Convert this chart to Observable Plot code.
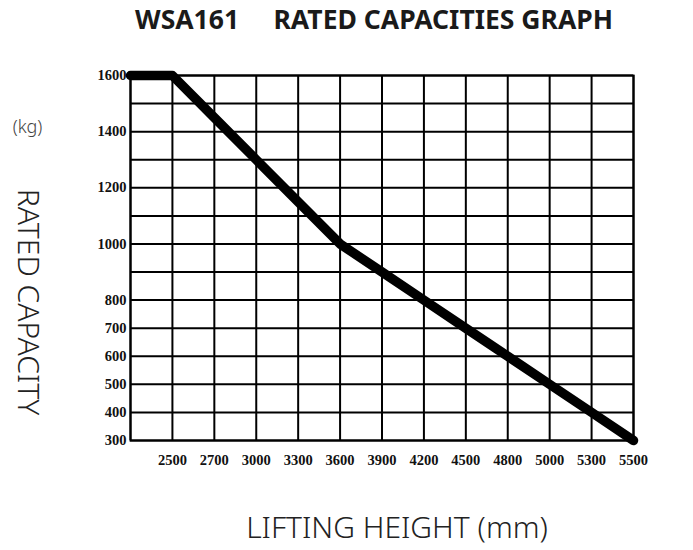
<!DOCTYPE html>
<html>
<head>
<meta charset="utf-8">
<script src="https://cdn.jsdelivr.net/npm/d3@7"></script>
<script src="https://cdn.jsdelivr.net/npm/@observablehq/plot@0.6"></script>
<style>
  html, body { margin: 0; padding: 0; background: #fff; }
  #title { height: 42px; box-sizing: border-box; padding-left: 135px; padding-top: 2px;
           font-family: "Noto Sans", sans-serif; font-weight: 700; font-size: 26.5px;
           color: #1a1a1a; white-space: pre; line-height: 34px; }
</style>
</head>
<body>
<div id="title">WSA161     RATED CAPACITIES GRAPH</div>
<div id="chart"></div>
<script>
// Lifting height categories (mm); leading "" is the unlabeled left edge column
const heights = ["", "2500", "2700", "3000", "3300", "3600", "3900", "4200", "4500", "4800", "5000", "5300", "5500"];
// Rated capacity (kg) read at each lifting height
const capacity = [1600, 1600, 1450, 1300, 1150, 1000, 900, 800, 700, 600, 500, 400, 300];
// Y tick labels shown
const yTicks = [1600, 1400, 1200, 1000, 800, 700, 600, 500, 400, 300];
// Horizontal grid values
const yGrid = [300, 400, 500, 600, 700, 800, 900, 1000, 1100, 1200, 1300, 1400, 1500, 1600];

const data = heights.map((h, i) => ({h, c: capacity[i]}));
const tickFont = {fontFamily: "'Liberation Serif', 'DejaVu Serif', serif", fontWeight: "bold", fontSize: 14.5};
const labelFont = "'Noto Sans', 'Open Sans', sans-serif";

const chart = Plot.plot({
  width: 693,
  height: 508,
  marginTop: 33,
  marginBottom: 110,
  marginLeft: 130,
  marginRight: 60,
  style: {background: "#fff", color: "#000"},
  x: {type: "point", domain: heights, padding: 0, round: false, label: null},
  y: {domain: [300, 1600], label: null},
  marks: [
    Plot.gridX(heights, {stroke: "#000", strokeOpacity: 1, strokeWidth: 2}),
    Plot.gridY(yGrid, {stroke: "#000", strokeOpacity: 1, strokeWidth: 2}),
    Plot.frame({stroke: "#000", strokeWidth: 2}),
    Plot.axisX(heights.slice(1), {tickSize: 0, tickPadding: 14, label: null, ...tickFont, fill: "#111"}),
    Plot.axisY(yTicks, {tickSize: 0, tickPadding: 4, label: null, tickFormat: d => String(d), ...tickFont, fill: "#111"}),
    Plot.line(data, {x: "h", y: "c", stroke: "#000", strokeWidth: 9.5, strokeLinecap: "round", strokeLinejoin: "round"}),
    Plot.text(["(kg)"], {frameAnchor: "top-left", dx: -103, dy: 52, textAnchor: "middle", lineAnchor: "middle", fontSize: 18, fontFamily: labelFont, fontWeight: 300, fill: "#444"}),
    Plot.text(["RATED CAPACITY"], {frameAnchor: "left", dx: -103, dy: 44, rotate: 90, textAnchor: "middle", lineAnchor: "middle", fontSize: 30, fontFamily: labelFont, fontWeight: 300, fill: "#222"}),
    Plot.text(["LIFTING HEIGHT (mm)"], {frameAnchor: "bottom", dx: 15, dy: 88, textAnchor: "middle", lineAnchor: "middle", fontSize: 30, fontFamily: labelFont, fontWeight: 300, fill: "#222"})
  ]
});
document.getElementById("chart").appendChild(chart);
</script>
</body>
</html>
